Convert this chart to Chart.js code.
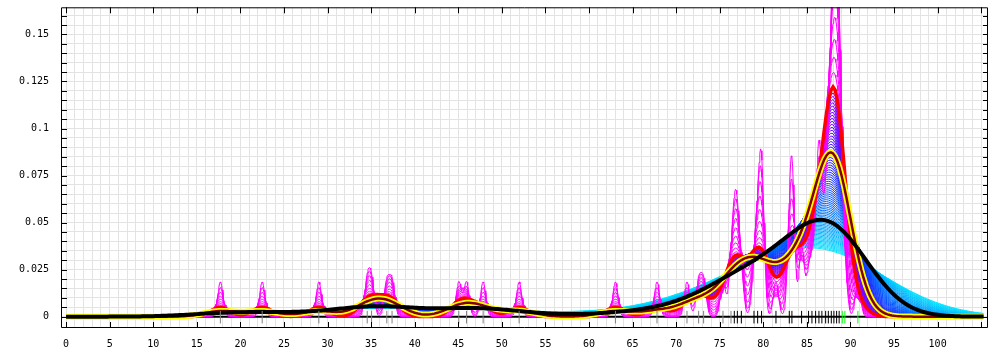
<!DOCTYPE html>
<html>
<head>
<meta charset="utf-8">
<script src="https://cdn.jsdelivr.net/npm/chart.js@4.4.1/dist/chart.umd.min.js"></script>
<style>
  body { margin: 0; background: #fff; }
  canvas { display: block; }
</style>
</head>
<body>
<canvas id="kde" width="1000" height="350"></canvas>
<script>
// Observations read from the rug (grey = isolated, black = main cluster, green = top values)
const isolatedValues = [17.7, 22.5, 29.0, 34.55, 35.05, 36.8, 37.4, 45.06, 45.94, 47.85, 51.98, 63.03, 67.8, 71.24, 72.58, 73.15, 75.37, 76.29];
const isolatedCounts = [1, 1, 1, 1, 1, 1, 1, 1, 1, 1, 1, 1, 1, 1, 1, 1, 1, 1];
const clusterValues = [76.67, 77.02, 77.48, 78.93, 79.35, 79.8, 81.45, 82.98, 83.28, 84.39, 85.19, 85.58, 86.0, 86.38, 86.72, 87.15, 87.46, 87.8, 88.1, 88.41, 88.7];
const clusterCounts = [2, 2, 1, 1, 2, 4, 1, 1, 4, 2, 1, 1, 1, 4, 1, 2, 2, 3, 6, 6, 4];
const topValues = [89.06, 89.36, 90.85];
const topCounts = [1, 1, 1];

// bandwidths of the density curves
const undersmoothedBandwidths = [0.3, 0.36, 0.43, 0.51, 0.6, 0.7, 0.8, 0.9, 1.0];
const sweepStart = 1.16, sweepRatio = 1.025, sweepEnd = 7.5;
const redBandwidth = 1.11;
const yellowBandwidth = 1.9;
const blackBandwidth = 4.3;

// axis ticks
const xLabelTicks = [0, 5, 10, 15, 20, 25, 30, 35, 40, 45, 50, 55, 60, 65, 70, 75, 80, 85, 90, 95, 100];
const yLabelTicks = [0, 0.025, 0.05, 0.075, 0.1, 0.125, 0.15];

const xMin = -0.585, xMax = 105.78, xEnd = 105.25;
const yMin = -0.00603, yMax = 0.16442;

const allValues = isolatedValues.concat(clusterValues, topValues);
const allCounts = isolatedCounts.concat(clusterCounts, topCounts);
const total = allCounts.reduce((a, b) => a + b, 0);

function density(h, step) {
    const pts = [];
    const norm = 1 / (total * h * Math.sqrt(2 * Math.PI));
    const n = Math.round(xEnd / step);
    for (let k = 0; k <= n; k++) {
        const x = k * step;
        let s = 0;
        for (let i = 0; i < allValues.length; i++) {
            const d = (x - allValues[i]) / h;
            s += allCounts[i] * Math.exp(-0.5 * d * d);
        }
        pts.push({ x: x, y: s * norm });
    }
    return pts;
}

function sweepColour(t) {
    const stops = [[0, [150, 0, 255]], [0.3, [40, 20, 255]], [0.55, [0, 90, 255]], [0.8, [0, 170, 255]], [1, [0, 230, 255]]];
    for (let i = 1; i < stops.length; i++) {
        if (t <= stops[i][0]) {
            const a = stops[i - 1], b = stops[i];
            const f = (t - a[0]) / (b[0] - a[0]);
            const c = a[1].map((v, j) => Math.round(v + (b[1][j] - v) * f));
            return `rgb(${c[0]},${c[1]},${c[2]})`;
        }
    }
    return 'rgb(0,230,255)';
}

function curve(h, colour, width) {
    return {
        type: 'line',
        data: density(h, h < 1.1 ? 0.08 : 0.25),
        borderColor: colour,
        borderWidth: width,
        pointRadius: 0,
        tension: 0,
        fill: false
    };
}

// layers from bottom to top
const layers = [];
layers.push({
    type: 'line',
    data: [{ x: 0, y: 0 }, { x: xEnd, y: 0 }],
    borderColor: '#000', borderWidth: 2, pointRadius: 0
});

const sweep = [];
for (let h = sweepStart; h <= sweepEnd + 1e-9; h *= sweepRatio) sweep.push(h);
for (let i = sweep.length - 1; i >= 0; i--) {
    layers.push(curve(sweep[i], sweepColour(i / (sweep.length - 1)), 1));
}
for (let i = undersmoothedBandwidths.length - 1; i >= 0; i--) {
    layers.push(curve(undersmoothedBandwidths[i], '#ff00ff', 1));
}
layers.push(curve(redBandwidth, '#ff0000', 3.5));
layers.push(curve(yellowBandwidth, '#ffff00', 6));
layers.push(curve(yellowBandwidth, '#800000', 2.5));
layers.push(curve(blackBandwidth, '#000000', 4));

function rug(values, colour) {
    return {
        type: 'scatter',
        data: values.map(v => ({ x: v, y: -0.00026 })),
        pointStyle: 'line',
        rotation: 90,
        pointRadius: 6.3,
        pointHoverRadius: 6.3,
        borderColor: colour,
        borderWidth: 1,
        showLine: false
    };
}
layers.push(rug(isolatedValues, '#808080'));
layers.push(rug(clusterValues, '#000000'));
layers.push(rug(topValues, '#00ff00'));

// Chart.js draws the first dataset on top
const datasets = layers.slice().reverse();

const framePlugin = {
    id: 'frame',
    afterDraw(chart) {
        const { ctx, chartArea: a, scales } = chart;
        const x = scales.x, y = scales.y;
        ctx.save();
        ctx.strokeStyle = '#000';
        ctx.lineWidth = 1;
        ctx.beginPath();
        ctx.rect(a.left + 0.5, a.top + 0.5, a.right - a.left - 1, a.bottom - a.top - 1);
        for (let v = 0; v <= 105; v += 5) {
            const px = Math.round(x.getPixelForValue(v)) + 0.5;
            ctx.moveTo(px, a.top); ctx.lineTo(px, a.top + 6);
            ctx.moveTo(px, a.bottom); ctx.lineTo(px, a.bottom - 6);
        }
        for (let k = 0; k <= 32; k++) {
            const py = Math.round(y.getPixelForValue(k * 0.005)) + 0.5;
            ctx.moveTo(a.left, py); ctx.lineTo(a.left + 6, py);
            ctx.moveTo(a.right, py); ctx.lineTo(a.right - 5, py);
        }
        ctx.stroke();
        ctx.restore();
    }
};

const tickFont = { family: 'DejaVu Sans Mono', size: 10 };

new Chart(document.getElementById('kde'), {
    type: 'line',
    data: { datasets: datasets },
    options: {
        responsive: false,
        animation: false,
        parsing: false,
        normalized: true,
        events: [],
        layout: { padding: { top: 3, right: 12, left: 0, bottom: 0 } },
        plugins: { legend: { display: false }, tooltip: { enabled: false } },
        scales: {
            x: {
                type: 'linear',
                min: xMin, max: xMax,
                afterFit(scale) {
                    scale.height = 22;
                    scale.paddingLeft = 0; scale.paddingRight = 0;
                },
                afterBuildTicks(scale) {
                    const t = [];
                    for (let v = 0; v <= 105; v++) t.push({ value: v });
                    scale.ticks = t;
                },
                grid: { color: '#e3e3e3', lineWidth: 1, drawTicks: false },
                border: { display: false },
                ticks: {
                    autoSkip: false, maxRotation: 0, padding: 10,
                    color: '#000', font: tickFont,
                    callback: v => xLabelTicks.includes(v) ? String(v) : ''
                }
            },
            y: {
                type: 'linear',
                min: yMin, max: yMax,
                afterFit(scale) {
                    scale.width = 61;
                    scale.paddingTop = 0; scale.paddingBottom = 0;
                },
                afterBuildTicks(scale) {
                    const t = [];
                    for (let k = 0; k <= 32; k++) t.push({ value: k * 0.005 });
                    scale.ticks = t;
                },
                grid: { color: '#e3e3e3', lineWidth: 1, drawTicks: false },
                border: { display: false },
                ticks: {
                    autoSkip: false, padding: 12,
                    color: '#000', font: tickFont,
                    callback: v => {
                        const hit = yLabelTicks.find(t => Math.abs(t - v) < 1e-9);
                        return hit === undefined ? '' : String(hit);
                    }
                }
            }
        }
    },
    plugins: [framePlugin]
});
</script>
</body>
</html>
